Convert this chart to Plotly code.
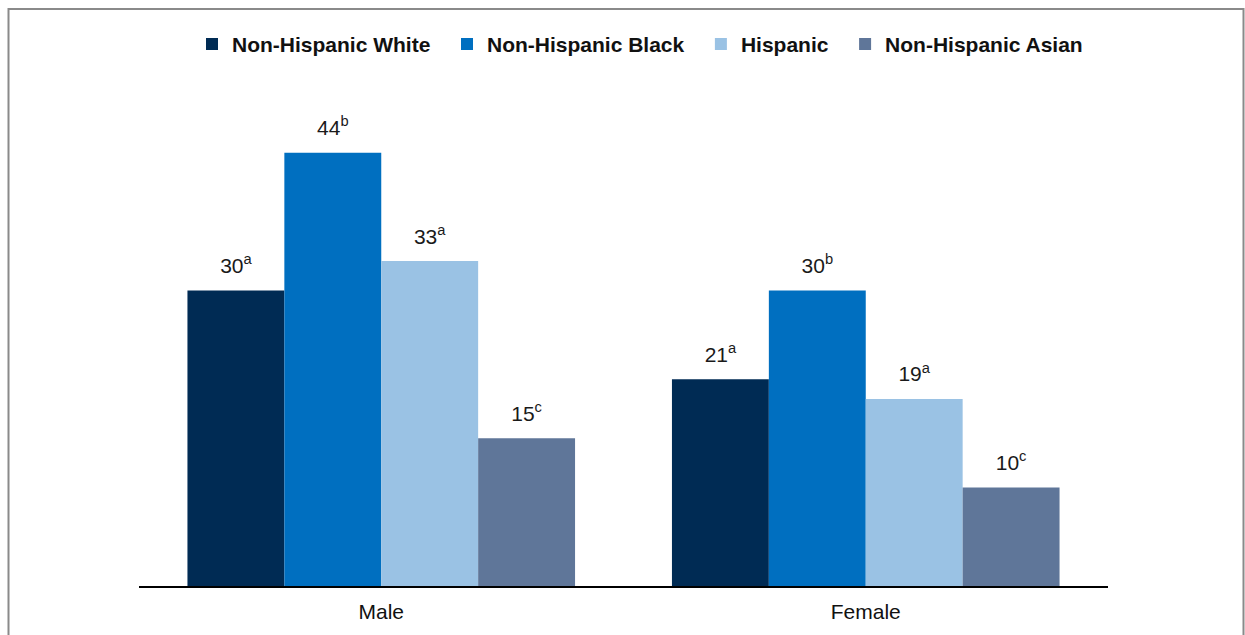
import plotly.graph_objects as go

categories = ["Male", "Female"]
series_names = ["Non-Hispanic White", "Non-Hispanic Black", "Hispanic", "Non-Hispanic Asian"]
values = {
    "Non-Hispanic White": [30, 21],
    "Non-Hispanic Black": [44, 30],
    "Hispanic": [33, 19],
    "Non-Hispanic Asian": [15, 10],
}
superscripts = {
    "Non-Hispanic White": ["a", "a"],
    "Non-Hispanic Black": ["b", "b"],
    "Hispanic": ["a", "a"],
    "Non-Hispanic Asian": ["c", "c"],
}
colors = {
    "Non-Hispanic White": "#002b54",
    "Non-Hispanic Black": "#006fc0",
    "Hispanic": "#9ac2e4",
    "Non-Hispanic Asian": "#5f7699",
}

FONT = "Liberation Sans, Arial"
NBSP = "\u00a0"

fig = go.Figure()
for i, name in enumerate(series_names):
    legend_name = name + (NBSP * 2 if i < len(series_names) - 1 else "")
    fig.add_trace(go.Bar(
        name=legend_name,
        x=categories,
        y=values[name],
        marker=dict(color=colors[name], line=dict(width=0)),
        hoverinfo="x+y",
    ))
for name in series_names:
    fig.add_trace(go.Scatter(
        x=categories,
        y=values[name],
        mode="markers+text",
        marker=dict(size=18, color="rgba(0,0,0,0)"),
        text=[f"{v}<sup>{s}</sup>" for v, s in zip(values[name], superscripts[name])],
        textposition="top center",
        textfont=dict(family=FONT, size=21, color="#1a1a1a"),
        cliponaxis=False,
        showlegend=False,
        hoverinfo="skip",
    ))

W, H = 1245, 635
ml, mr, mt, mb = 139, 137, 100, 47
pw = W - ml - mr
ph = H - mt - mb

def px_x(p):
    return (p - ml) / pw

def px_y(p):
    return (H - mb - p) / ph

fig.add_shape(type="rect", xref="paper", yref="paper",
              x0=px_x(8.5), x1=px_x(1243.5), y0=px_y(700), y1=px_y(8.5),
              line=dict(color="#8a8a8a", width=2), fillcolor="rgba(0,0,0,0)", layer="below")

fig.update_layout(
    width=W, height=H,
    margin=dict(l=ml, r=mr, t=mt, b=mb),
    paper_bgcolor="white", plot_bgcolor="white",
    barmode="group", bargap=0.2, bargroupgap=0,
    scattermode="group", scattergap=0.2,
    font=dict(family=FONT, color="#111111"),
    showlegend=True,
    legend=dict(orientation="h", x=px_x(192), y=px_y(44), xanchor="left", yanchor="middle",
                font=dict(size=21, family=FONT, color="#111111", weight="bold"),
                itemwidth=30, traceorder="normal", bgcolor="rgba(0,0,0,0)"),
    xaxis=dict(showline=True, linecolor="black", linewidth=2, ticks="", showgrid=False,
               ticklabelstandoff=6,
               tickfont=dict(size=21, family=FONT, color="#111111")),
    yaxis=dict(visible=False, range=[0, ph / (435 / 44)], showgrid=False, zeroline=False),
)

fig.write_html("out.html")
